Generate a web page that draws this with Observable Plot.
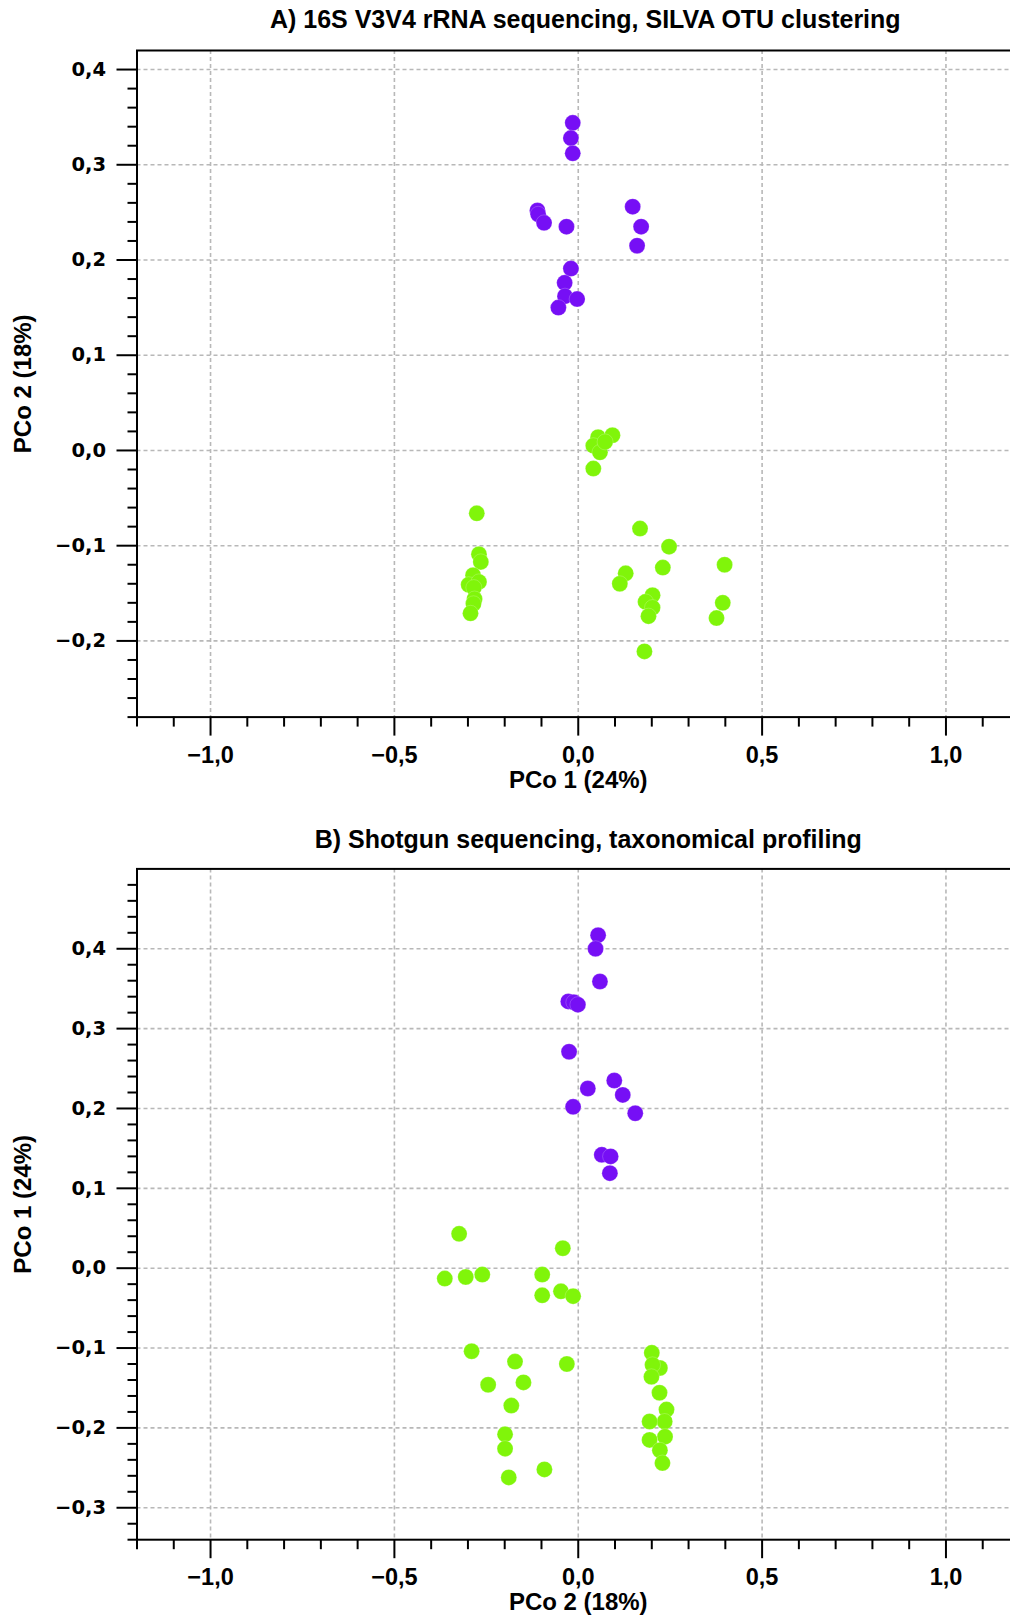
<!DOCTYPE html>
<html><head><meta charset="utf-8">
<script src="https://cdn.jsdelivr.net/npm/d3@7"></script>
<script src="https://cdn.jsdelivr.net/npm/@observablehq/plot@0.6"></script>
<style>
html,body{margin:0;padding:0;background:#fff;overflow:hidden;width:1010px;height:1615px}
#a{position:absolute;left:0;top:0}
#b{position:absolute;left:0;top:820px}
</style></head><body><div id="a"></div><div id="b"></div>
<script>
// ---------- data ----------
const titleA = "A) 16S V3V4 rRNA sequencing, SILVA OTU clustering";
const titleB = "B) Shotgun sequencing, taxonomical profiling";
const xLabelA = "PCo 1 (24%)", yLabelA = "PCo 2 (18%)";
const xLabelB = "PCo 2 (18%)", yLabelB = "PCo 1 (24%)";
const groups = ["group 1", "group 2"];
const groupColors = ["#760ff5", "#80f50a"];

const xMajorTicks = [-1.0, -0.5, 0.0, 0.5, 1.0];
const xMinorTicks = [-1.2,-1.1,-0.9,-0.8,-0.7,-0.6,-0.4,-0.3,-0.2,-0.1,0.1,0.2,0.3,0.4,0.6,0.7,0.8,0.9,1.1];
const yMajorTicksA = [-0.2, -0.1, 0.0, 0.1, 0.2, 0.3, 0.4];
const yMajorTicksB = [-0.3, -0.2, -0.1, 0.0, 0.1, 0.2, 0.3, 0.4];

// Panel A, group 1 (purple)
const aP_x = [-0.015,-0.020,-0.015,-0.111,-0.109,-0.093,-0.032,0.148,0.171,0.160,-0.020,-0.037,-0.036,-0.003,-0.054];
const aP_y = [0.344,0.328,0.312,0.252,0.248,0.239,0.235,0.256,0.235,0.215,0.191,0.176,0.162,0.159,0.150];
// Panel A, group 2 (green)
const aG_x = [0.054,0.093,0.041,0.059,0.073,0.041,
  -0.276,-0.270,-0.265,-0.286,-0.298,-0.270,-0.284,-0.282,-0.285,-0.293,
  0.168,0.247,0.129,0.113,0.230,0.202,0.183,0.202,0.191,0.180,0.398,0.393,0.376];
const aG_y = [0.014,0.016,0.005,-0.002,0.009,-0.019,
  -0.066,-0.109,-0.117,-0.131,-0.141,-0.138,-0.144,-0.156,-0.161,-0.171,
  -0.082,-0.101,-0.129,-0.140,-0.123,-0.152,-0.159,-0.165,-0.174,-0.211,-0.120,-0.160,-0.176];
// Panel B, group 1 (purple)
const bP_x = [0.054,0.047,0.059,-0.027,-0.012,-0.001,-0.025,0.026,0.098,0.121,0.155,-0.014,0.064,0.088,0.086];
const bP_y = [0.417,0.400,0.359,0.334,0.333,0.330,0.271,0.225,0.235,0.217,0.194,0.202,0.142,0.140,0.119];
// Panel B, group 2 (green)
const bG_x = [-0.324,-0.363,-0.306,-0.261,-0.098,-0.098,-0.042,-0.047,-0.014,
  -0.290,-0.172,-0.031,-0.245,-0.149,-0.182,-0.199,-0.199,-0.189,-0.092,
  0.200,0.222,0.202,0.199,0.221,0.240,0.235,0.194,0.236,0.194,0.222,0.229];
const bG_y = [0.043,-0.013,-0.011,-0.008,-0.008,-0.034,0.025,-0.029,-0.035,
  -0.104,-0.117,-0.120,-0.146,-0.143,-0.172,-0.208,-0.226,-0.262,-0.252,
  -0.106,-0.125,-0.121,-0.136,-0.156,-0.177,-0.192,-0.192,-0.211,-0.215,-0.228,-0.244];

// ---------- helpers ----------
const toRows = (xs, ys, g) => xs.map((x, i) => ({x, y: ys[i], g}));
const fmt = d => d3.format(".1f")(d).replace(".", ",");
const minorBetween = (lo, hi, step, majors) => {
  const out = [];
  const n = Math.round((hi - lo) / step);
  for (let i = 0; i <= n; i++) {
    const v = +(lo + i * step).toFixed(4);
    if (v < hi - 1e-9 && !majors.some(m => Math.abs(m - v) < 1e-9)) out.push(v);
  }
  return out;
};
const sans = "'Liberation Sans', Arial, sans-serif";

function panel({height, marginTop, marginBottom, yDomain, yMajor, rows, title, titleDx, titleDy, xLabel, yLabel, xLabelDy}) {
  const yMinor = minorBetween(yDomain[0], yDomain[1], 0.02, yMajor);
  return Plot.plot({
    width: 1010, height,
    marginLeft: 136.5, marginRight: -9, marginTop, marginBottom,
    x: {domain: [-1.2, 1.2]},
    y: {domain: yDomain},
    color: {domain: groups, range: groupColors},
    style: {background: "white", overflow: "hidden"},
    marks: [
      Plot.gridX(xMajorTicks, {stroke: "#b8b8b8", strokeOpacity: 1, strokeWidth: 1.6, strokeDasharray: "4,3"}),
      Plot.gridY(yMajor, {stroke: "#b8b8b8", strokeOpacity: 1, strokeWidth: 1.6, strokeDasharray: "4,3"}),
      Plot.dot(rows, {x: "x", y: "y", r: 8, fill: "g", stroke: "white", strokeOpacity: 0.35, strokeWidth: 0.6}),
      Plot.frame({stroke: "black", strokeWidth: 2}),
      Plot.axisX(xMinorTicks, {tickSize: 10, tickFormat: () => "", stroke: "black", strokeWidth: 2, label: null}),
      Plot.axisX(xMajorTicks, {tickSize: 19, tickPadding: 10, tickFormat: fmt, stroke: "black", strokeWidth: 2,
        fontSize: 23.5, fontWeight: "bold", fontFamily: sans, fill: "black", label: null}),
      Plot.axisY(yMinor, {tickSize: 9, tickFormat: () => "", stroke: "black", strokeWidth: 2, label: null}),
      Plot.axisY(yMajor, {tickSize: 20, tickPadding: 11, tickFormat: fmt, stroke: "black", strokeWidth: 2,
        fontSize: 19.5, fontWeight: "bold", fontFamily: "'DejaVu Sans', Verdana, sans-serif", fill: "black", label: null}),
      Plot.text([xLabel], {text: d => d, frameAnchor: "bottom", textAnchor: "middle", lineAnchor: "middle", dy: xLabelDy,
        fontSize: 24, fontWeight: "bold", fontFamily: sans, fill: "black"}),
      Plot.text([yLabel], {text: d => d, frameAnchor: "left", textAnchor: "middle", lineAnchor: "middle", dx: -114, rotate: -90,
        fontSize: 24, fontWeight: "bold", fontFamily: sans, fill: "black"}),
      Plot.text([title], {text: d => d, frameAnchor: "top", textAnchor: "middle", lineAnchor: "middle", dx: titleDx, dy: titleDy,
        fontSize: 25, fontWeight: "bold", fontFamily: sans, fill: "black"})
    ]
  });
}

const rowsA = [...toRows(aP_x, aP_y, groups[0]), ...toRows(aG_x, aG_y, groups[1])];
const rowsB = [...toRows(bP_x, bP_y, groups[0]), ...toRows(bG_x, bG_y, groups[1])];

document.getElementById("a").appendChild(panel({
  height: 800, marginTop: 50, marginBottom: 83.4, yDomain: [-0.28, 0.42], yMajor: yMajorTicksA,
  rows: rowsA, title: titleA, titleDx: 7, titleDy: -30.4, xLabel: xLabelA, yLabel: yLabelA, xLabelDy: 63.3
}));
document.getElementById("b").appendChild(panel({
  height: 795, marginTop: 48.4, marginBottom: 75.8, yDomain: [-0.34, 0.5], yMajor: yMajorTicksB,
  rows: rowsB, title: titleB, titleDx: 10, titleDy: -29.1, xLabel: xLabelB, yLabel: yLabelB, xLabelDy: 63.1
}));
</script>
</body></html>
